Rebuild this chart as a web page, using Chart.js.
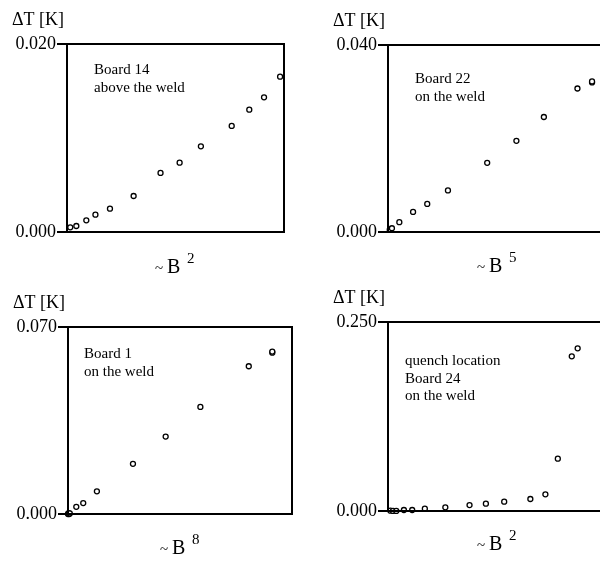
<!DOCTYPE html>
<html>
<head>
<meta charset="utf-8">
<script src="https://cdn.jsdelivr.net/npm/chart.js@4"></script>
<style>
    body { margin: 0; width: 600px; height: 564px; overflow: hidden; background: #fff; position: relative; }
    .panel { position: absolute; overflow: hidden; width: 300px; height: 282px; }
</style>
</head>
<body>
<div class="panel" style="left:0;top:0"><canvas id="board14" width="300" height="282"></canvas></div>
<div class="panel" style="left:300px;top:0"><canvas id="board22" width="320" height="282"></canvas></div>
<div class="panel" style="left:0;top:282px"><canvas id="board1" width="300" height="282"></canvas></div>
<div class="panel" style="left:300px;top:282px"><canvas id="board24" width="320" height="282"></canvas></div>
<script>
// x is in arbitrary units (0..100 across the box), y is dT in K
const board14X = [1.5, 4.3, 8.9, 13.1, 19.8, 30.7, 43.1, 51.9, 61.7, 75.9, 84.0, 90.8, 98.2];
const board14Y = [0.0005, 0.00064, 0.00124, 0.00184, 0.00248, 0.00383, 0.00628, 0.00738, 0.00911, 0.01128, 0.01301, 0.01433, 0.01652];

const board22X = [0.8, 1.8, 5.2, 11.5, 18.0, 27.5, 45.5, 58.9, 71.5, 86.9, 93.6, 93.6];
const board22Y = [0.0005, 0.0008, 0.0021, 0.0043, 0.0060, 0.0089, 0.0148, 0.0195, 0.0246, 0.0307, 0.0320, 0.0322];

const board1X = [0.0, 0.3, 0.5, 0.8, 3.7, 6.8, 12.9, 29.0, 43.6, 59.1, 80.7, 91.2, 91.2];
const board1Y = [0.0, 0.0003, 0.0, 0.0002, 0.0027, 0.0041, 0.0085, 0.0188, 0.0290, 0.0401, 0.0553, 0.0604, 0.0608];

const board24X = [1.1, 2.3, 3.8, 7.3, 11.1, 16.9, 26.3, 37.4, 44.9, 53.3, 65.3, 72.2, 77.9, 84.3, 87.0];
const board24Y = [0.0004, 0.0001, 0.0001, 0.0013, 0.0013, 0.0031, 0.0049, 0.0079, 0.0097, 0.0123, 0.0159, 0.0220, 0.0692, 0.2046, 0.2152];

const yRanges = { board14: 0.020, board22: 0.040, board1: 0.070, board24: 0.250 };
const notes = {
    board14: ['Board 14', 'above the weld'],
    board22: ['Board 22', 'on the weld'],
    board1: ['Board 1', 'on the weld'],
    board24: ['quench location', 'Board 24', 'on the weld']
};
const powers = { board14: '2', board22: '5', board1: '8', board24: '2' };

const SERIF = '"Liberation Serif", "Times New Roman", serif';

const panelText = {
    id: 'panelText',
    afterDraw(chart, args, opts) {
        const { ctx, chartArea: a } = chart;
        ctx.save();
        ctx.strokeStyle = '#000';
        ctx.lineWidth = 2;
        ctx.strokeRect(a.left, a.top, a.right - a.left, a.bottom - a.top);

        ctx.fillStyle = '#000';
        ctx.textBaseline = 'alphabetic';
        ctx.font = '18px ' + SERIF;
        ctx.fillText('\u0394T [K]', a.left - 55, a.top - 19);

        ctx.font = '15px ' + SERIF;
        opts.note.forEach((line, i) => {
            ctx.fillText(line, a.left + opts.noteX, a.top + opts.noteY + i * 17.5);
        });

        // x label "~ B^n"
        const cx = opts.labelCenter;
        const by = a.bottom + opts.labelDy;
        ctx.font = '15px ' + SERIF;
        ctx.fillText('~', cx - 20, by);
        ctx.font = '20px ' + SERIF;
        ctx.fillText('B', cx - 8, by);
        ctx.font = '15px ' + SERIF;
        ctx.fillText(opts.power, cx + 12, by - 10);
        ctx.restore();
    }
};

function buildPanel(id, xs, ys, layout) {
    const yMax = yRanges[id];
    const points = xs.map((x, i) => ({ x: x, y: ys[i] }));
    return new Chart(document.getElementById(id), {
        type: 'scatter',
        data: {
            datasets: [{
                data: points,
                pointStyle: 'circle',
                pointRadius: 2.5,
                pointBorderWidth: 1.3,
                pointBorderColor: '#000',
                pointBackgroundColor: '#fff',
                clip: false
            }]
        },
        options: {
            responsive: false,
            animation: false,
            layout: { padding: { top: layout.top, right: layout.right, left: 0, bottom: 0 } },
            scales: {
                x: {
                    min: 0,
                    max: 100,
                    ticks: { display: false },
                    grid: { display: false },
                    border: { display: false },
                    afterFit: scale => { scale.height = layout.xHeight; }
                },
                y: {
                    min: 0,
                    max: yMax,
                    afterBuildTicks: scale => { scale.ticks = [{ value: 0 }, { value: yMax }]; },
                    ticks: {
                        autoSkip: false,
                        padding: 1,
                        color: '#000',
                        font: { family: SERIF, size: 18 },
                        callback: v => v.toFixed(3)
                    },
                    grid: { drawOnChartArea: false, drawTicks: true, tickLength: 10, color: '#000', lineWidth: 2 },
                    border: { display: false },
                    afterFit: scale => { scale.width = layout.yWidth; }
                }
            },
            plugins: {
                legend: { display: false },
                tooltip: { enabled: false },
                panelText: {
                    note: notes[id],
                    noteX: layout.noteX,
                    noteY: layout.noteY,
                    labelCenter: layout.labelCenter,
                    labelDy: layout.labelDy,
                    power: powers[id]
                }
            }
        },
        plugins: [panelText]
    });
}

buildPanel('board14', board14X, board14Y, { yWidth: 67, top: 44, xHeight: 50, right: 16, noteX: 27, noteY: 30, labelCenter: 175, labelDy: 41 });
buildPanel('board22', board22X, board22Y, { yWidth: 88, top: 45, xHeight: 50, right: 14, noteX: 27, noteY: 38, labelCenter: 197, labelDy: 40 });
buildPanel('board1', board1X, board1Y, { yWidth: 68, top: 45, xHeight: 50, right: 8, noteX: 16, noteY: 31, labelCenter: 180, labelDy: 40 });
buildPanel('board24', board24X, board24Y, { yWidth: 88, top: 40, xHeight: 53, right: 14, noteX: 17, noteY: 43, labelCenter: 197, labelDy: 39 });
</script>
</body>
</html>
